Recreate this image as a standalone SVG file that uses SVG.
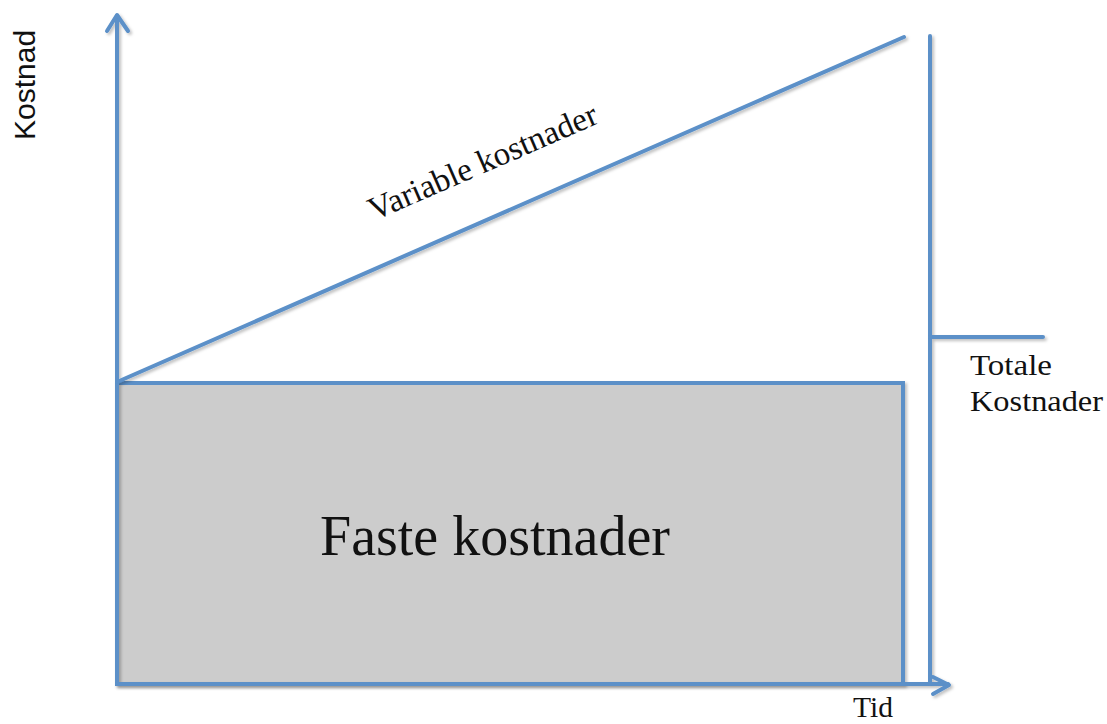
<svg xmlns="http://www.w3.org/2000/svg" width="1107" height="724" viewBox="0 0 1107 724">
<style>
.ln{stroke:#5b90c8;stroke-width:4;fill:none;stroke-linecap:round;stroke-linejoin:round}
.box{stroke:#5b90c8;stroke-width:4;fill:#cccccc}
.sr{font-family:"Liberation Serif","DejaVu Serif",serif;fill:#111}
.ss{font-family:"Liberation Sans",Arial,sans-serif;fill:#111}
</style>
<defs>
<filter id="sh" x="-5%" y="-5%" width="110%" height="110%">
<feDropShadow dx="2" dy="2" stdDeviation="1.5" flood-color="#000" flood-opacity="0.25"/>
</filter>
</defs>
<rect width="1107" height="724" fill="#fff"/>
<g id="fixed">
<rect x="117" y="383" width="786" height="301" class="box" filter="url(#sh)"/>
<text class="sr" x="320" y="555" font-size="56">Faste kostnader</text>
</g>
<g id="connectors" filter="url(#sh)">
<path class="ln" d="M117,684 V16"/>
<path class="ln" d="M107,31 L117,15 L128,31"/>
<path class="ln" d="M117,684 H948"/>
<path class="ln" d="M933,677 L949,685 L933,694"/>
<path class="ln" d="M117,382 L904,37"/>
<path class="ln" d="M930,36 V684"/>
<path class="ln" d="M930,337 H1043"/>
</g>
<g id="labels">
<text class="ss" font-size="30" transform="translate(35,140) rotate(-90)">Kostnad</text>
<text class="sr" font-size="33" transform="translate(374,221) rotate(-23.5)">Variable kostnader</text>
<text class="sr" font-size="30" x="970" y="375" textLength="82" lengthAdjust="spacingAndGlyphs">Totale</text>
<text class="sr" font-size="30" x="970" y="411" textLength="133" lengthAdjust="spacingAndGlyphs">Kostnader</text>
<text class="sr" font-size="29" x="853" y="717" textLength="40" lengthAdjust="spacingAndGlyphs">Tid</text>
</g>
</svg>
